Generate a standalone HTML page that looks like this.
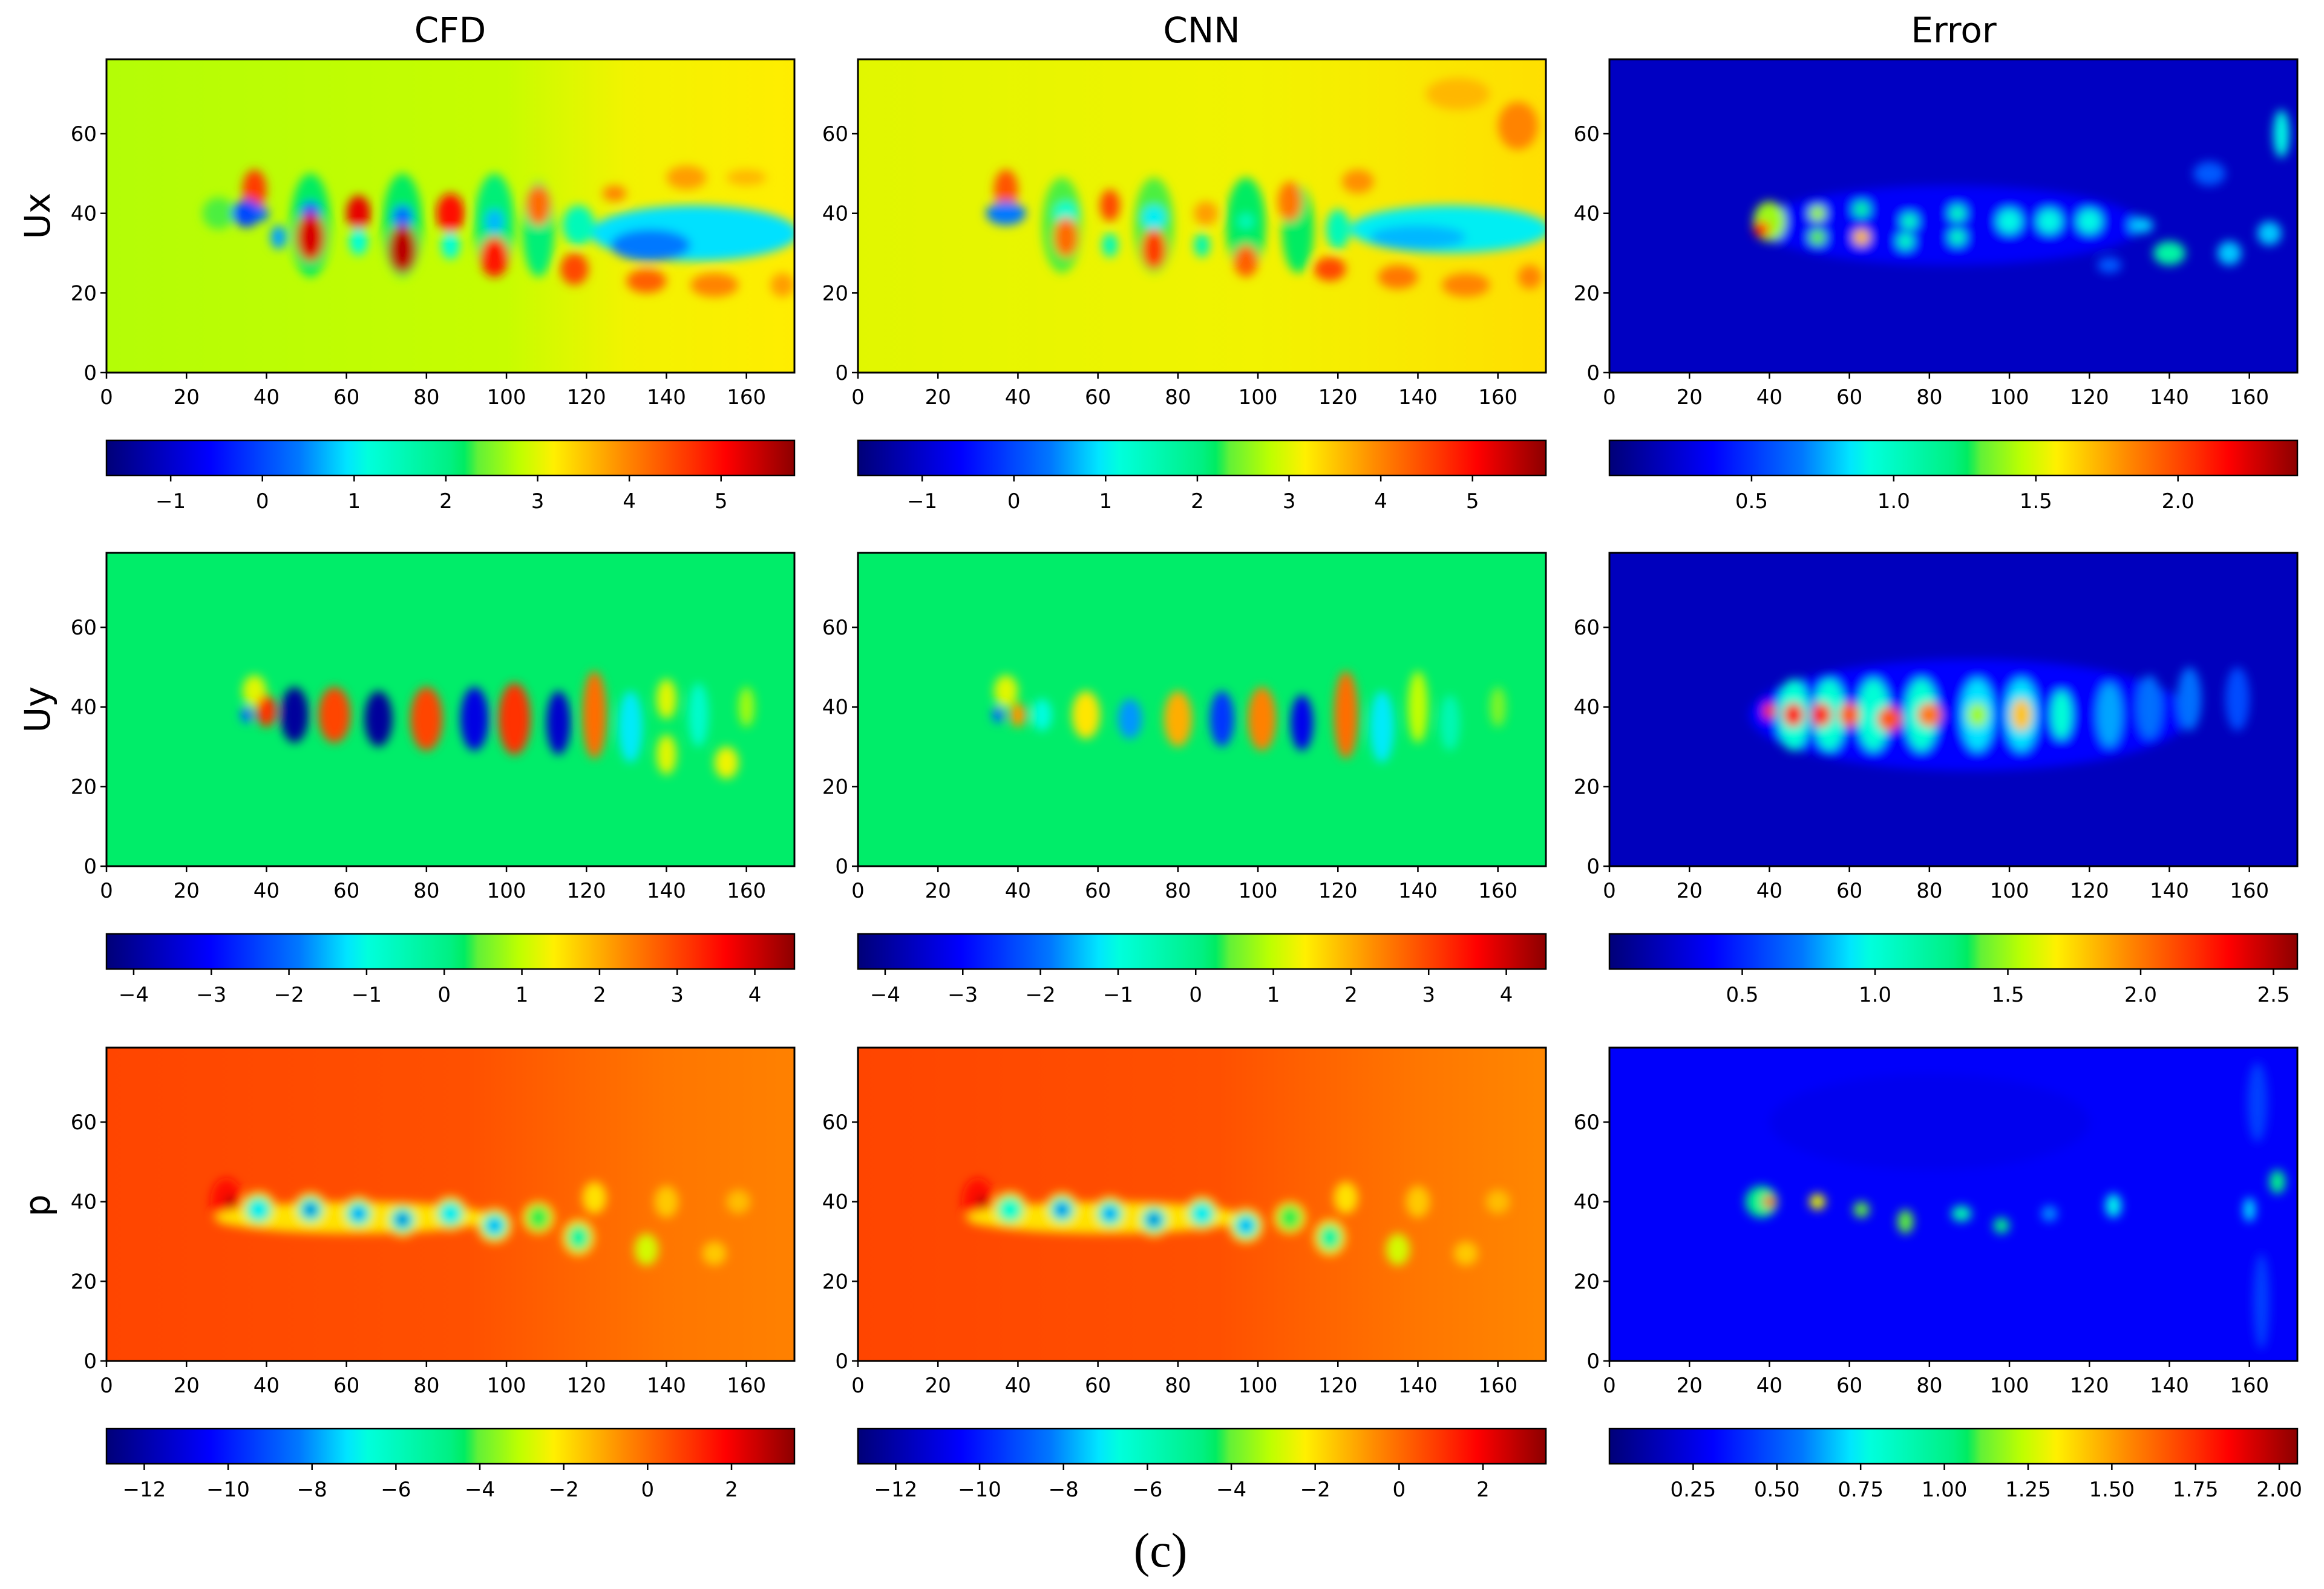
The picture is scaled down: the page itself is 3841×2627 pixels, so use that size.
<!DOCTYPE html>
<html><head><meta charset="utf-8"><title>CFD vs CNN fields</title>
<style>
html,body{margin:0;padding:0;background:#fff;}
svg{display:block;font-family:"DejaVu Sans","Liberation Sans",sans-serif;}
</style></head>
<body>
<svg id="fig" width="3841" height="2627" viewBox="0 0 3841 2627" xmlns="http://www.w3.org/2000/svg">
<defs>
<filter id="blur" x="-50%" y="-50%" width="200%" height="200%"><feGaussianBlur stdDeviation="8"/></filter>
</defs>
<text x="744" y="70" font-size="58" text-anchor="middle">CFD</text>
<text x="1986" y="70" font-size="58" text-anchor="middle">CNN</text>
<text x="3229" y="70" font-size="58" text-anchor="middle">Error</text>
<text transform="translate(82,357) rotate(-90)" font-size="58" text-anchor="middle">Ux</text>
<text transform="translate(82,1173) rotate(-90)" font-size="58" text-anchor="middle">Uy</text>
<text transform="translate(82,1993) rotate(-90)" font-size="58" text-anchor="middle">p</text>
<text x="1918" y="2590" font-size="80" text-anchor="middle" font-family="Liberation Serif, serif">(c)</text>
</svg>
<script>
// ---- data ----
const xTicks = [0,20,40,60,80,100,120,140,160];
const yTicks = [0,20,40,60];
const xDomain = [0,172];
const yDomain = [0,78.7];

const uxRange = [-1.7,5.8];
const uxTicks = [-1,0,1,2,3,4,5];
const uxErrRange = [0.0,2.42];
const uxErrTicks = [0.5,1.0,1.5,2.0];
const uyRange = [-4.35,4.51];
const uyTicks = [-4,-3,-2,-1,0,1,2,3,4];
const uyErrRange = [0.0,2.59];
const uyErrTicks = [0.5,1.0,1.5,2.0,2.5];
const pRange = [-12.9,3.5];
const pTicks = [-12,-10,-8,-6,-4,-2,0,2];
const pErrRange = [0.0,2.054];
const pErrTicks = [0.25,0.50,0.75,1.00,1.25,1.50,1.75,2.00];

// background profiles: [x, value]
const uxCfdBg = [[0,2.75],[100,2.85],[130,3.1],[172,3.2]];
const uxCnnBg = [[0,3.0],[100,3.1],[172,3.3]];
const uxErrBg = [[0,0.2],[172,0.2]];
const uyCfdBg = [[0,0.22],[172,0.22]];
const uyCnnBg = [[0,0.22],[172,0.22]];
const uyErrBg = [[0,0.2],[172,0.2]];
const pCfdBg = [[0,0.7],[90,0.5],[140,-0.2],[172,-0.4]];
const pCnnBg = [[0,0.7],[90,0.5],[140,-0.2],[172,-0.5]];
const pErrBg = [[0,0.3],[172,0.3]];

// blobs: [x, y, rx, ry, value]
const uxCfdBlobs = [
 [51,37,5,13,2.2],[74,37,5,13,2.2],[97,37,5,13,2.1],[108,36,4,12,2.1],[28,40,4,4,2.3],
 [147,35,26,7,0.9],[136,32,10,4,0.4],[118,37,4,5,1.5],
 [37,46,3,5,4.6],[35,40,3.5,3.5,0.0],[39,40,1.5,2,0.3],
 [51,40,2.5,3,0.1],[63,40,3,4.5,5.2],[74,39,2.5,3,0.3],[86,40,3.5,5,5.0],[97,38,2.2,3,0.7],[108,42,3,5,4.2],
 [43,34,2,3,0.6],[51,34,3.5,6,5.3],[63,33,2.3,3.5,1.2],[74,31,3.5,6,5.5],[86,32,2.3,3.5,1.2],[97,29,3.5,5,4.9],
 [117,26,3.5,4,4.5],[135,23,5,3,4.3],[152,22,6,3,4.0],[169,22,3,3,3.8],
 [145,49,5,3,3.8],[127,45,3,2,4.0],[160,49,5,2,3.6]
];
const uxCnnBlobs = [
 [51,37,5,12,2.3],[74,37,5,12,2.3],[97,37,5,12,2.2],[110,36,4,11,2.2],
 [148,36,25,6,1.0],[140,34,12,3,0.7],[120,36,3,5,1.5],
 [37,46,3,5,4.4],[37,40,5,3,0.4],
 [52,40,3,3,1.3],[63,42,2.5,4,4.5],[74,39,3,3,1.0],[87,40,3,3,3.8],[97,38,2,2,1.5],[108,43,3,5,4.1],
 [52,34,3,5,4.2],[63,32,2,3,1.5],[74,31,3,5,4.6],[86,32,2,3,1.6],[97,28,3,4,4.3],
 [118,26,4,3,4.5],[135,24,5,3,4.1],[152,22,6,3,4.0],[168,24,3,3,4.0],
 [165,62,5,6,4.0],[150,70,8,4,3.6],[125,48,4,3,3.9]
];
const uxErrBlobs = [
 [85,37,48,10,0.35],
 [40,38,4,5,1.4],[38,36,2,2,2.1],[52,40,2,2,1.4],[52,34,2,2,1.3],[63,34,2,2,1.7],[63,41,2,2,1.1],
 [75,38,2,2,1.0],[74,33,2,2,1.0],[87,34,2,2,1.0],[87,40,2,2,1.0],[100,38,3,3,0.9],[110,38,3,3,0.9],
 [120,38,3,3,0.9],[140,30,4,3,1.1],[133,37,3,2,0.8],[155,30,3,3,0.8],[165,35,3,3,0.8],
 [168,60,2,6,0.9],[150,50,4,3,0.6],[125,27,3,2,0.6]
];
const uyCfdBlobs = [
 [37,44,3,4,1.2],[35,38,1.5,2,-2],
 [40,39,2.5,4,3.2],[47,38,3.5,7,-4.0],[57,38,4,7,3.0],[68,37,3.5,7,-4.0],[80,37,4,8,3.0],
 [92,37,3.5,8,-3.3],[102,37,4,9,3.2],[113,36,3,8,-3.5],[122,38,3,11,2.6],[131,35,3,9,-1.2],
 [140,42,2.5,5,1.2],[140,28,2.5,5,1.2],[148,38,2.5,8,-0.8],[155,26,3,4,1.3],[160,40,2,5,0.8]
];
const uyCnnBlobs = [
 [37,44,3,4,1.2],[35,38,1.5,2,-2],
 [40,38,2,3,2.2],[46,38,2.5,4,-1.0],[57,38,3.5,6,1.5],[68,37,3,5,-1.7],[80,37,3.5,7,2.0],
 [91,37,3,7,-2.5],[101,37,3.5,8,2.4],[111,36,2.8,7,-3.2],[122,38,3,11,2.6],[131,35,3,9,-1.2],
 [140,40,2.5,9,1.0],[148,36,2.5,7,-0.5],[160,40,2,5,0.6]
];
const uyErrBlobs = [
 [90,38,55,14,0.4],
 [46,38,4,9,1.0],[55,38,4,9,1.0],[66,38,4,9,1.0],[78,38,4,9,1.0],[92,38,4,9,0.9],[103,38,4,9,0.9],
 [40,39,1.5,2,2.2],[46,38,2.5,3,2.3],[53,38,2.5,3,2.2],[60,38,2.5,3,2.1],[70,37,3,3,2.1],[80,38,3,3,2.0],
 [92,38,2.5,3,1.5],[103,38,2.5,4,1.8],[113,38,2.5,6,1.0],[125,38,3,8,0.8],[135,40,3,8,0.7],
 [145,42,3,8,0.7],[157,42,3,8,0.6]
];
const pCfdBlobs = [
 [30,40,4,6,1.6],[31,40,1.2,1.5,3.2],[62,36,35,4,-2.0],
 [38,38,4.5,4.5,-2.2],[51,38,4.3,4.3,-2.2],[63,37,4.3,4.3,-2.2],[74,35.5,4.3,4.3,-2.2],[86,37,4.3,4.3,-2.2],[97,34,4.3,4.3,-2.2],[108,36,4,4,-2.2],[118,31,4,4.5,-2.2],
 [38,38,3.3,3.3,-5],[51,38,3.2,3.2,-5],[63,37,3.2,3.2,-5],[74,35.5,3.2,3.2,-5],[86,37,3.2,3.2,-5],[97,34,3.2,3.2,-5],[108,36,2.8,3,-4.2],[118,31,2.8,3.2,-4.6],
 [38,38,2.3,2.3,-7],[51,38,2.3,2.3,-7.2],[63,37,2.3,2.3,-7],[74,35.5,2.3,2.3,-7.2],[86,37,2.3,2.3,-7],[97,34,2.3,2.3,-7],[118,31,1.8,2,-5.5],
 [51,38,1.3,1.3,-11.5],[63,37,1.2,1.2,-9.5],[74,35.5,1.3,1.3,-11.5],[97,34,1.1,1.1,-9],
 [135,28,3,4,-2.8],[152,27,3,3,-1.6],[122,41,3,4,-2.0],[140,40,3,4,-1.6],[158,40,3,3,-1.4]
];
const pCnnBlobs = [
 [30,40,4,6,1.6],[31,40,1.2,1.5,3.2],[62,36,35,4,-2.0],
 [38,38,4.5,4.5,-2.2],[51,38,4.3,4.3,-2.2],[63,37,4.3,4.3,-2.2],[74,35.5,4.3,4.3,-2.2],[86,37,4.3,4.3,-2.2],[97,34,4.3,4.3,-2.2],[108,36,4,4,-2.2],[118,31,4,4.5,-2.2],
 [38,38,3.3,3.3,-5],[51,38,3.2,3.2,-5],[63,37,3.2,3.2,-5],[74,35.5,3.2,3.2,-5],[86,37,3.2,3.2,-5],[97,34,3.2,3.2,-5],[108,36,2.8,3,-4.2],[118,31,2.8,3.2,-4.6],
 [38,38,2.3,2.3,-6.5],[51,38,2.3,2.3,-7.2],[63,37,2.3,2.3,-7],[74,35.5,2.3,2.3,-7.2],[86,37,2.3,2.3,-7],[97,34,2.3,2.3,-7],[118,31,1.8,2,-5.5],
 [51,38,1.3,1.3,-11],[63,37,1.2,1.2,-9.5],[74,35.5,1.3,1.3,-11.5],[97,34,1.1,1.1,-9],
 [135,28,3,4,-2.8],[152,27,3,3,-1.6],[122,41,3,4,-2.0],[140,40,3,4,-1.6],[160,40,3,3,-1.4]
];
const pErrBlobs = [
 [80,60,40,12,0.27],[38,40,4,4,1.0],[40,40,1.5,1.5,1.7],[52,40,2,2,1.3],[63,38,2,2,1.1],[74,35,2,3,1.1],
 [88,37,2.5,2,0.9],[98,34,2,2,1.0],[110,37,2,2,0.6],[126,39,2,3,0.75],[167,45,2,3,1.0],
 [160,38,1.5,3,0.7],[162,65,2.5,10,0.45],[163,15,2,12,0.45]
];

// colormap stops as observed in the reference colorbar: [t, r, g, b]
const cmapStops = [
 [0,0,0,120],[0.15,0,0,255],[0.28,0,120,255],[0.35,0,230,255],[0.38,0,255,220],
 [0.5,0,240,130],[0.525,0,235,90],[0.535,90,240,60],[0.6,190,255,0],[0.65,255,240,0],
 [0.75,255,140,0],[0.85,255,50,0],[0.9,255,0,0],[1,140,0,0]
];

// ---- layout ----
const colLeft = [176,1418,2660];
const rowTop = [98,914,1732];
const PW = 1137, PH = 518;
const cbOffset = 630, CBH = 58;

const panels = [
 {r:0,c:0,name:'ux-cfd',range:uxRange,ticks:uxTicks,bg:uxCfdBg,blobs:uxCfdBlobs,dec:0},
 {r:0,c:1,name:'ux-cnn',range:uxRange,ticks:uxTicks,bg:uxCnnBg,blobs:uxCnnBlobs,dec:0},
 {r:0,c:2,name:'ux-error',range:uxErrRange,ticks:uxErrTicks,bg:uxErrBg,blobs:uxErrBlobs,dec:1},
 {r:1,c:0,name:'uy-cfd',range:uyRange,ticks:uyTicks,bg:uyCfdBg,blobs:uyCfdBlobs,dec:0},
 {r:1,c:1,name:'uy-cnn',range:uyRange,ticks:uyTicks,bg:uyCnnBg,blobs:uyCnnBlobs,dec:0},
 {r:1,c:2,name:'uy-error',range:uyErrRange,ticks:uyErrTicks,bg:uyErrBg,blobs:uyErrBlobs,dec:1},
 {r:2,c:0,name:'p-cfd',range:pRange,ticks:pTicks,bg:pCfdBg,blobs:pCfdBlobs,dec:0},
 {r:2,c:1,name:'p-cnn',range:pRange,ticks:pTicks,bg:pCnnBg,blobs:pCnnBlobs,dec:0},
 {r:2,c:2,name:'p-error',range:pErrRange,ticks:pErrTicks,bg:pErrBg,blobs:pErrBlobs,dec:2}
];

const NS = 'http://www.w3.org/2000/svg';
const svg = document.getElementById('fig');
const defs = svg.querySelector('defs');
function mk(tag, attrs, parent){
  const e = document.createElementNS(NS, tag);
  for (const k in attrs) e.setAttribute(k, attrs[k]);
  (parent||svg).appendChild(e);
  return e;
}
function cl(v){return Math.max(0,Math.min(1,v));}
function cmap(t){
  t = cl(t);
  for (let i=1;i<cmapStops.length;i++){
    const a = cmapStops[i-1], b = cmapStops[i];
    if (t <= b[0]){
      const f = (t-a[0])/(b[0]-a[0]||1);
      return 'rgb('+Math.round(a[1]+(b[1]-a[1])*f)+','+Math.round(a[2]+(b[2]-a[2])*f)+','+Math.round(a[3]+(b[3]-a[3])*f)+')';
    }
  }
  const l = cmapStops[cmapStops.length-1];
  return 'rgb('+l[1]+','+l[2]+','+l[3]+')';
}
function fmt(v,dec){
  const s = Math.abs(v).toFixed(dec);
  return (v<0?'\u2212':'')+s;
}

panels.forEach(p=>{
  const L = colLeft[p.c], T = rowTop[p.r];
  const xs = v => L + (v - xDomain[0])/(xDomain[1]-xDomain[0])*PW;
  const ys = v => T + PH - (v - yDomain[0])/(yDomain[1]-yDomain[0])*PH;
  const cs = v => (v - p.range[0])/(p.range[1]-p.range[0]);

  const g = mk('g',{});
  
  

  const cp = mk('clipPath',{id:'clip-'+p.name},defs);
  mk('rect',{x:L,y:T,width:PW,height:PH},cp);

  const lg = mk('linearGradient',{id:'bg-'+p.name,x1:0,y1:0,x2:1,y2:0},defs);
  p.bg.forEach(s=>{
    mk('stop',{offset:((s[0]-xDomain[0])/(xDomain[1]-xDomain[0])),'stop-color':cmap(cs(s[1]))},lg);
  });
  const heat = mk('g',{'clip-path':'url(#clip-'+p.name+')'},g);
  
  
  mk('rect',{x:L,y:T,width:PW,height:PH,fill:'url(#bg-'+p.name+')'},heat);
  const bl = mk('g',{filter:'url(#blur)'},heat);
  p.blobs.forEach(b=>{
    const rxp = b[2]/(xDomain[1]-xDomain[0])*PW;
    const ryp = b[3]/(yDomain[1]-yDomain[0])*PH;
    const e = mk('ellipse',{cx:xs(b[0]),cy:ys(b[1]),rx:rxp,ry:ryp,fill:cmap(cs(b[4]))},bl);
    
    
  });
  mk('rect',{x:L,y:T,width:PW,height:PH,fill:'none',stroke:'#000','stroke-width':3},g);
  xTicks.forEach(t=>{
    const x = xs(t);
    mk('line',{x1:x,y1:T+PH,x2:x,y2:T+PH+10,stroke:'#000','stroke-width':2.5},g);
    const tx = mk('text',{x:x,y:T+PH+52,'font-size':34,'text-anchor':'middle'},g);
    tx.textContent = t;
    
    
  });
  yTicks.forEach(t=>{
    const y = ys(t);
    mk('line',{x1:L-10,y1:y,x2:L,y2:y,stroke:'#000','stroke-width':2.5},g);
    const tx = mk('text',{x:L-16,y:y+12,'font-size':34,'text-anchor':'end'},g);
    tx.textContent = t;
    
    
  });

  const CT = T + cbOffset;
  const cg = mk('g',{});
  
  
  const cgrad = mk('linearGradient',{id:'cb-'+p.name,x1:0,y1:0,x2:1,y2:0},defs);
  for (let i=0;i<=100;i++){
    mk('stop',{offset:i/100,'stop-color':cmap(i/100)},cgrad);
  }
  mk('rect',{x:L,y:CT,width:PW,height:CBH,fill:'url(#cb-'+p.name+')',stroke:'#000','stroke-width':2.5},cg);
  p.ticks.forEach(t=>{
    const x = L + cs(t)*PW;
    mk('line',{x1:x,y1:CT+CBH,x2:x,y2:CT+CBH+10,stroke:'#000','stroke-width':2.5},cg);
    const tx = mk('text',{x:x,y:CT+CBH+54,'font-size':34,'text-anchor':'middle'},cg);
    tx.textContent = fmt(t,p.dec);
    
    
  });
});
</script>
</body></html>
